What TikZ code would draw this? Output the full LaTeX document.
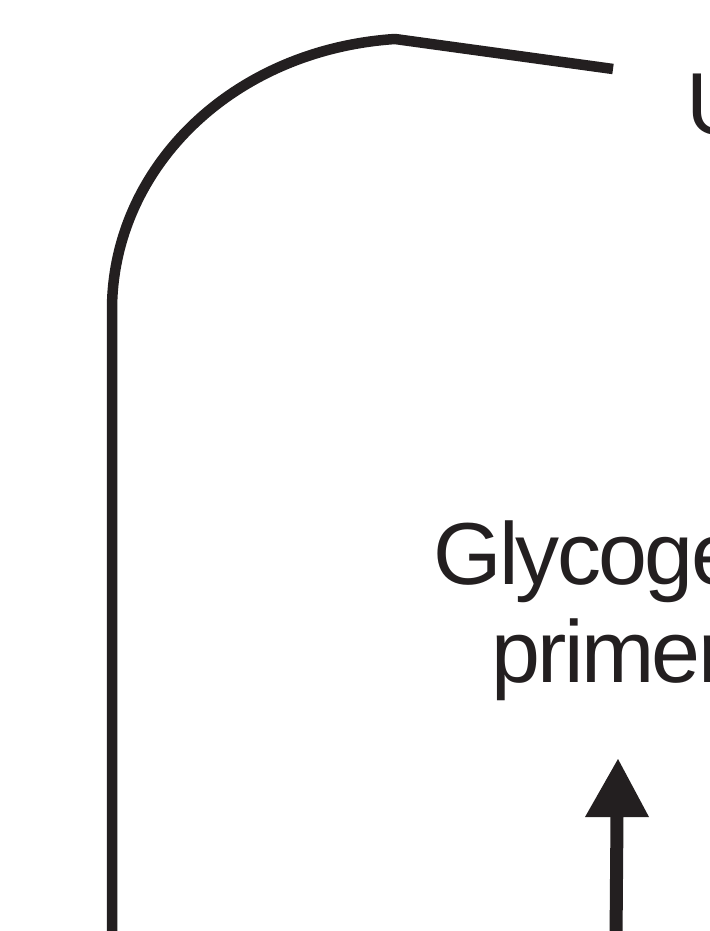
\documentclass[tikz,border=0pt]{standalone}
\usepackage{fontspec}
\setmainfont{Liberation Sans}[LetterSpace=-3]
\definecolor{ink}{HTML}{231F20}
\begin{document}
\begin{tikzpicture}[x=1pt,y=-1pt,
  pathline/.style={draw=ink,line width=10.5pt,line join=round},
  label/.style={text=ink,inner sep=0pt,font=\fontsize{88}{98}\selectfont,anchor=base west}]
\useasboundingbox (0,0) rectangle (709,931);
\clip (0,0) rectangle (709,931);
% labels
\node[label] (u) at (686,135) {U};
\node[label] (glyc) at (433,584) {Glycogen};
\node[label] (primer) at (491,682) {primer};
% bracket path
\coordinate (topend) at (613,69);
\coordinate (corner) at (395,39);
\coordinate (bend) at (112,310);
\coordinate (bottom) at (112,940);
\draw[pathline] (topend) -- (corner) .. controls (230,50) and (112,170) .. (bend) -- (bottom);
% arrow
\coordinate (arrowfoot) at (616,940);
\coordinate (arrowtip) at (618,759);
\coordinate (headbase) at (617,816);
\draw[draw=ink,line width=13pt] (arrowfoot) -- (headbase);
\fill[ink] (arrowtip) -- (649,817) -- (585,817) -- cycle;
\end{tikzpicture}
\end{document}
